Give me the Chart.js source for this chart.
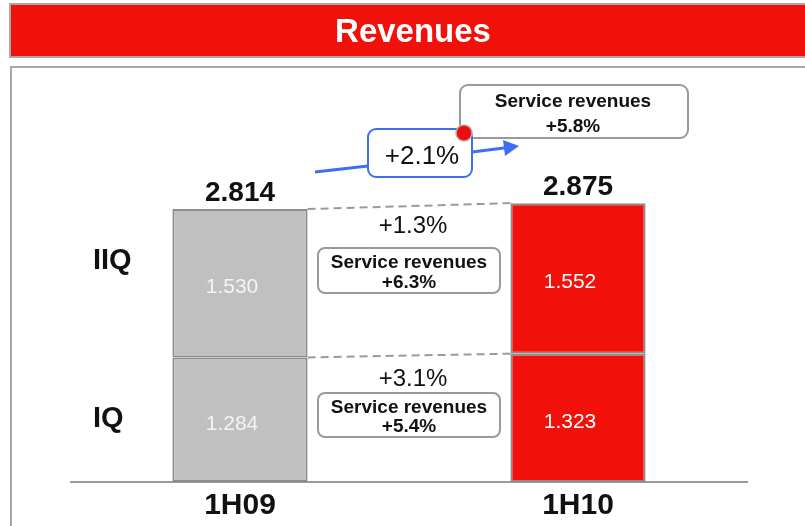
<!DOCTYPE html>
<html><head><meta charset="utf-8">
<script src="https://cdn.jsdelivr.net/npm/chart.js@4"></script>
<style>html,body{margin:0;padding:0;background:#fff}canvas{display:block}</style>
</head><body>
<canvas id="c" width="805" height="526"></canvas>
<script>
const title = 'Revenues';
const categories = ['1H09', '1H10'];
const seriesNames = ['IQ', 'IIQ'];
const iqValues = [1.284, 1.323];
const iiqValues = [1.530, 1.552];
const totals = [2.814, 2.875];
const quarterGrowth = ['+3.1%', '+1.3%'];          // IQ, IIQ
const quarterServiceGrowth = ['+5.4%', '+6.3%'];   // IQ, IIQ
const totalGrowth = '+2.1%';
const totalServiceGrowth = '+5.8%';
const serviceLabel = 'Service revenues';

const GRAY = '#c0c0c0', RED = '#f2110a', EDGE = '#8c8c8c', BLUE = '#3d6ff5';
const FF = '"Liberation Sans", Arial, sans-serif';
const fmt = v => v.toFixed(3);

function rr(ctx, x, y, w, h, r, stroke, lw, fill) {
  ctx.beginPath();
  ctx.roundRect(x, y, w, h, r);
  if (fill) { ctx.fillStyle = fill; ctx.fill(); }
  ctx.strokeStyle = stroke; ctx.lineWidth = lw; ctx.stroke();
}
function txt(ctx, s, x, y, font, color, align) {
  ctx.font = font; ctx.fillStyle = color; ctx.textAlign = align || 'center';
  ctx.textBaseline = 'alphabetic'; ctx.fillText(s, x, y);
}

const deco = {
  id: 'deco',
  beforeDraw(chart) {
    const ctx = chart.ctx;
    ctx.save();
    ctx.fillStyle = '#fff'; ctx.fillRect(0, 0, chart.width, chart.height);
    // title bar
    ctx.fillStyle = RED; ctx.fillRect(10, 4, 800, 53);
    ctx.strokeStyle = '#a8a8a8'; ctx.lineWidth = 2; ctx.strokeRect(10, 4, 800, 53);
    txt(ctx, title, 413, 42, 'bold 33px ' + FF, '#fff');
    // frame
    ctx.strokeStyle = '#a8a8a8'; ctx.lineWidth = 2;
    ctx.strokeRect(11, 67, 800, 470);
    ctx.restore();
  },
  afterDatasetsDraw(chart) {
    const ctx = chart.ctx;
    const y = chart.scales.y;
    const m0 = chart.getDatasetMeta(0).data, m1 = chart.getDatasetMeta(1).data;
    ctx.save();
    // value labels inside segments
    [m0, m1].forEach((els, d) => {
      els.forEach((el, i) => {
        const v = chart.data.datasets[d].data[i];
        txt(ctx, fmt(v), el.x - 8, (el.y + el.base) / 2 + 10, '21px ' + FF, i === 0 ? '#f4f4f4' : '#fff');
      });
    });
    // totals
    m1.forEach((el, i) => {
      txt(ctx, fmt(totals[i]), el.x, y.getPixelForValue(totals[i]) - 8, 'bold 28px ' + FF, '#111');
    });
    // dashed connectors
    ctx.setLineDash([8, 5]); ctx.strokeStyle = '#9a9a9a'; ctx.lineWidth = 2;
    [m0, m1].forEach(els => {
      const a = els[0], b = els[1];
      ctx.beginPath();
      ctx.moveTo(a.x + a.width / 2, a.y);
      ctx.lineTo(b.x - b.width / 2, b.y);
      ctx.stroke();
    });
    ctx.setLineDash([]);
    // middle annotations
    const midX = (m0[0].x + m0[0].width / 2 + m0[1].x - m0[1].width / 2) / 2;
    const bx = midX - 91, bw = 182;
    // IIQ
    txt(ctx, quarterGrowth[1], midX + 4, 233, '24px ' + FF, '#111');
    rr(ctx, bx, 248, bw, 45, 7, '#9a9a9a', 2, '#fff');
    txt(ctx, serviceLabel, midX, 268, 'bold 19px ' + FF, '#111');
    txt(ctx, quarterServiceGrowth[1], midX, 288, 'bold 19px ' + FF, '#111');
    // IQ
    txt(ctx, quarterGrowth[0], midX + 4, 386, '24px ' + FF, '#111');
    rr(ctx, bx, 393, bw, 44, 7, '#9a9a9a', 2, '#fff');
    txt(ctx, serviceLabel, midX, 413, 'bold 19px ' + FF, '#111');
    txt(ctx, quarterServiceGrowth[0], midX, 432, 'bold 19px ' + FF, '#111');
    // series labels
    txt(ctx, seriesNames[1], 93, 269, 'bold 29px ' + FF, '#111', 'left');
    txt(ctx, seriesNames[0], 93, 427, 'bold 29px ' + FF, '#111', 'left');
    // top annotation: total service revenues
    rr(ctx, 460, 85, 228, 53, 8, '#9a9a9a', 2, '#fff');
    txt(ctx, serviceLabel, 573, 107, 'bold 19px ' + FF, '#111');
    txt(ctx, totalServiceGrowth, 573, 132, 'bold 19px ' + FF, '#111');
    // blue arrow
    ctx.strokeStyle = BLUE; ctx.lineWidth = 3;
    ctx.beginPath(); ctx.moveTo(315, 172); ctx.lineTo(368, 166); ctx.stroke();
    ctx.beginPath(); ctx.moveTo(472, 152); ctx.lineTo(508, 147.5); ctx.stroke();
    ctx.fillStyle = BLUE;
    ctx.beginPath(); ctx.moveTo(519, 146); ctx.lineTo(503, 140); ctx.lineTo(505, 156); ctx.closePath(); ctx.fill();
    rr(ctx, 368, 129, 104, 48, 8, BLUE, 2, '#fff');
    txt(ctx, totalGrowth, 422, 164, '26px ' + FF, '#111');
    // red dot
    ctx.beginPath(); ctx.arc(464, 133, 8, 0, Math.PI * 2);
    ctx.fillStyle = '#ee0d0d'; ctx.fill();
    ctx.strokeStyle = '#b0b0b0'; ctx.lineWidth = 1.5; ctx.stroke();
    ctx.restore();
  }
};

new Chart(document.getElementById('c'), {
  type: 'bar',
  data: {
    labels: categories,
    datasets: [
      { label: seriesNames[0], data: iqValues, backgroundColor: [GRAY, RED], borderColor: EDGE, borderWidth: 2, borderSkipped: false },
      { label: seriesNames[1], data: iiqValues, backgroundColor: [GRAY, RED], borderColor: EDGE, borderWidth: 2, borderSkipped: false }
    ]
  },
  options: {
    responsive: false, animation: false,
    layout: { padding: { left: 71, right: 58, top: 94, bottom: 0 } },
    plugins: { legend: { display: false }, tooltip: { enabled: false } },
    datasets: { bar: { barPercentage: 0.4, categoryPercentage: 1.0 } },
    scales: {
      x: {
        stacked: true,
        grid: { display: false, drawTicks: false },
        border: { display: true, color: '#9a9a9a', width: 2 },
        ticks: { font: { family: FF, size: 30, weight: 'bold' }, color: '#111', padding: 6 },
        afterFit(s) { s.height = 44; }
      },
      y: { stacked: true, display: false, min: 0, max: 4 }
    }
  },
  plugins: [deco]
});
</script>
</body></html>
